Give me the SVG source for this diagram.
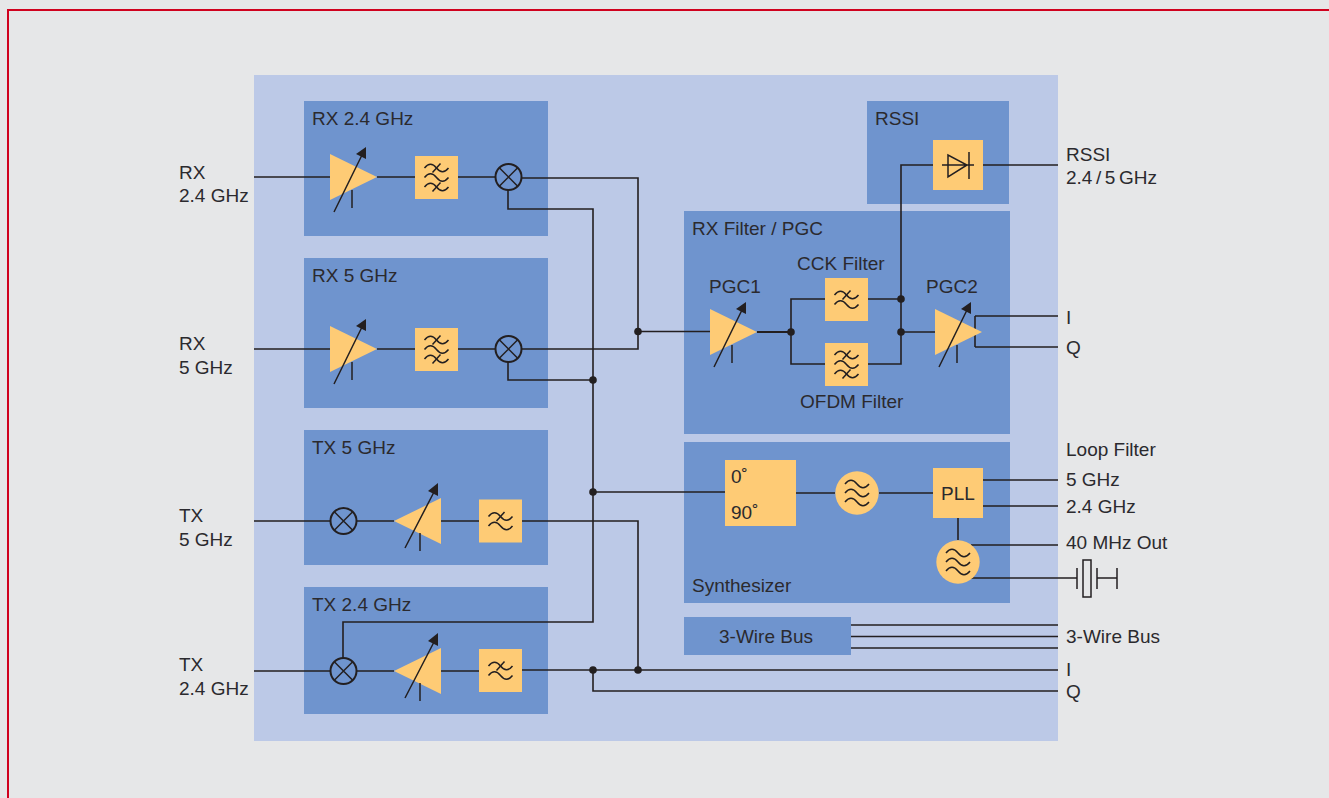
<svg xmlns="http://www.w3.org/2000/svg" width="1329" height="798" viewBox="0 0 1329 798">
<style>
text{font-family:"Liberation Sans",Arial,sans-serif;font-size:19px;fill:#2b2a2e}
.panel{fill:#6f94ce}
.y{fill:#fecb75}
.c{fill:none;stroke:#231f20;stroke-width:1.6}
.s{fill:none;stroke:#231f20;stroke-width:1.5}
.d{fill:#231f20}
</style>
<defs>
<g id="wave"><path d="M-12,0c4,-5 8,-5 12,0s8,5 12,0" class="s"/></g>
<g id="wavex"><use href="#wave"/><path d="M-4,4.500L4,-4.500" class="s"/></g>
<g id="f2"><rect x="-21.500" y="-21.500" width="43" height="43" class="y"/><use href="#wavex" y="-4.500"/><use href="#wave" y="5"/></g>
<g id="f3"><rect x="-21.500" y="-21.500" width="43" height="43" class="y"/><use href="#wavex" y="-9.500"/><use href="#wave" y="0"/><use href="#wavex" y="9.500"/></g>
<g id="cf"><circle r="21.700" class="y"/><use href="#wave" y="-9"/><use href="#wave" y="0"/><use href="#wave" y="9"/></g>
<g id="mix"><circle r="13" fill="none" stroke="#231f20" stroke-width="2"/><path d="M-9.200,-9.200L9.200,9.200M-9.200,9.200L9.200,-9.200" class="s"/></g>
<g id="amp"><path d="M0,-23L47,0L0,23Z" class="y"/><path d="M4,35L32,-22M22,13V31" class="s"/><path d="M36,-30L36,-18L26,-23Z" class="d"/></g>
<g id="ampl"><path d="M0,0L47,-23V23Z" class="y"/><path d="M11,27L40,-29M26,12V30" class="s"/><path d="M44,-38L44,-25L34,-30Z" class="d"/></g>
</defs>
<rect width="1329" height="798" fill="#e6e7e8"/>
<path d="M8,798V10H1329" fill="none" stroke="#d0021f" stroke-width="2"/>
<rect x="254" y="75" width="804" height="666" fill="#bcc9e7"/>
<g id="panel-rx24"><rect class="panel" x="304" y="101" width="244" height="135"/><text x="312" y="125">RX 2.4 GHz</text></g>
<g id="panel-rx5"><rect class="panel" x="304" y="258" width="244" height="150"/><text x="312" y="282">RX 5 GHz</text></g>
<g id="panel-tx5"><rect class="panel" x="304" y="430" width="244" height="135"/><text x="312" y="454">TX 5 GHz</text></g>
<g id="panel-tx24"><rect class="panel" x="304" y="587" width="244" height="127"/><text x="312" y="611">TX 2.4 GHz</text></g>
<g id="panel-rssi"><rect class="panel" x="867" y="101" width="142" height="103"/><text x="875" y="125">RSSI</text></g>
<g id="panel-rxfilter"><rect class="panel" x="684" y="211" width="326" height="223"/><text x="692" y="235">RX Filter / PGC</text><text x="709" y="293">PGC1</text><text x="797" y="270">CCK Filter</text><text x="926" y="293">PGC2</text><text x="800" y="408">OFDM Filter</text></g>
<g id="panel-synth"><rect class="panel" x="684" y="442" width="326" height="161"/><text x="692" y="592">Synthesizer</text></g>
<g id="panel-bus"><rect class="panel" x="684" y="617" width="167" height="38"/><text x="766" y="643" text-anchor="middle">3-Wire Bus</text></g>
<g id="connectors">
<path class="c" d="M254,177H330M377,177H415M458,177H495M522,178H638V349H522M638,331.500H710"/>
<path class="c" d="M508,190V209H593V622H343V658M508,362V380H593M593,492H725"/>
<path class="c" d="M254,349H330M377,349H415M458,349H495"/>
<path class="c" d="M254,521H330M357,521H394M441,521H479M522,521H638V670"/>
<path class="c" d="M254,671H330M357,671H394M441,671H479M522,670H1058M593,670V691H1058"/>
<path class="c" d="M983,165H1058M933,165H901V364H868M868,299H901M825,299H791V364H825M901,332H935M975,316V347M975,316H1058M975,347H1058"/>
<path d="M757,332H791" fill="none" stroke="#231f20" stroke-width="2.200"/>
<path class="c" d="M796,493H835M879,493H933M983,480H1058M983,506H1058M958,518V540M971,545H1058M971,578H1077"/>
<path class="c" d="M851,625H1058M851,636.500H1058M851,648H1058"/>
<circle class="d" cx="638" cy="331.500" r="3.800"/><circle class="d" cx="593" cy="380" r="3.800"/><circle class="d" cx="593" cy="492" r="3.800"/><circle class="d" cx="593" cy="670" r="3.800"/><circle class="d" cx="638" cy="670" r="3.800"/><circle class="d" cx="791" cy="332" r="3.800"/><circle class="d" cx="901" cy="299" r="3.800"/><circle class="d" cx="901" cy="332" r="3.800"/>
</g>
<g id="amp-rx24"><use href="#amp" x="330" y="177"/></g>
<g id="filter-rx24"><use href="#f3" x="436.500" y="177.500"/></g>
<g id="mixer-rx24"><use href="#mix" x="508.500" y="177"/></g>
<g id="amp-rx5"><use href="#amp" x="330" y="349"/></g>
<g id="filter-rx5"><use href="#f3" x="436.500" y="349.500"/></g>
<g id="mixer-rx5"><use href="#mix" x="508.500" y="349"/></g>
<g id="mixer-tx5"><use href="#mix" x="343.500" y="521"/></g>
<g id="amp-tx5"><use href="#ampl" x="394" y="521"/></g>
<g id="filter-tx5"><use href="#f2" x="500.500" y="521"/></g>
<g id="mixer-tx24"><use href="#mix" x="343.500" y="671"/></g>
<g id="amp-tx24"><use href="#ampl" x="394" y="671"/></g>
<g id="filter-tx24"><use href="#f2" x="500.500" y="670.500"/></g>
<g id="amp-pgc1"><use href="#amp" x="710" y="332"/></g>
<g id="filter-cck"><use href="#f2" x="846.500" y="299.500"/></g>
<g id="filter-ofdm"><use href="#f3" x="846.500" y="364.500"/></g>
<g id="amp-pgc2"><use href="#amp" x="935" y="332"/></g>
<g id="rssi-detector"><rect class="y" x="933" y="140" width="50" height="50"/><path class="s" d="M942,165H974M948,155V177L967,165ZM969,152V179"/></g>
<g id="phase-split"><rect class="y" x="725" y="460" width="71" height="66"/><text x="731" y="483">0˚</text><text x="731" y="519">90˚</text></g>
<g id="filter-synth"><use href="#cf" x="857" y="493"/></g>
<g id="pll"><rect class="y" x="933" y="468" width="50" height="50"/><text x="958" y="500" text-anchor="middle">PLL</text></g>
<g id="filter-xo"><use href="#cf" x="958" y="562"/></g>
<g id="crystal"><path class="s" d="M1077,568V589M1097,568V589M1097,578H1117M1117,568V589"/><rect x="1083" y="560" width="8" height="37" class="s"/></g>
<g id="labels">
<text x="179" y="179">RX</text><text x="179" y="202">2.4 GHz</text>
<text x="179" y="350">RX</text><text x="179" y="374">5 GHz</text>
<text x="179" y="522">TX</text><text x="179" y="546">5 GHz</text>
<text x="179" y="671">TX</text><text x="179" y="695">2.4 GHz</text>
<text x="1066" y="161">RSSI</text><text x="1066" y="184" word-spacing="-1.700">2.4 / 5 GHz</text>
<text x="1066" y="324">I</text><text x="1066" y="354">Q</text>
<text x="1066" y="456">Loop Filter</text><text x="1066" y="486">5 GHz</text><text x="1066" y="513">2.4 GHz</text><text x="1066" y="549">40 MHz Out</text>
<text x="1066" y="643">3-Wire Bus</text><text x="1066" y="676">I</text><text x="1066" y="698">Q</text>
</g>
</svg>
